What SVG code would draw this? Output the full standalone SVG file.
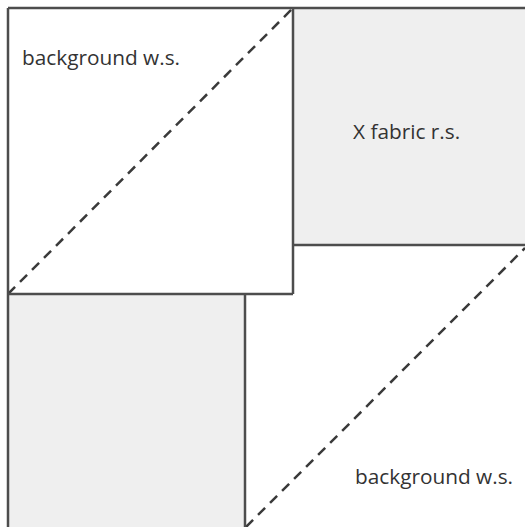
<svg xmlns="http://www.w3.org/2000/svg" width="525" height="527" viewBox="0 0 525 527">
<style>
.gray{fill:#efefef;stroke:none}
.white{fill:#ffffff;stroke:none}
.edge{stroke:#4d4d4d;stroke-width:2.5;fill:none}
.dash{stroke:#3a3a3a;stroke-width:2.5;fill:none;stroke-dasharray:10 7}
.lbl{font-family:"Open Sans","Noto Sans","Liberation Sans",sans-serif;font-size:20.8px;fill:#333333}
</style>
<rect x="0" y="0" width="525" height="527" fill="#ffffff"/>
<g id="x-fabric-top">
<rect class="gray" x="293" y="8" width="232" height="237"/>
<text class="lbl" x="353" y="139">X fabric r.s.</text>
</g>
<g id="gray-bottom-left">
<rect class="gray" x="8" y="294" width="237" height="233"/>
</g>
<g id="background-top">
<rect class="white" x="8" y="8" width="285" height="286"/>
<text class="lbl" x="22" y="65">background w.s.</text>
</g>
<g id="background-bottom">
<text class="lbl" x="355" y="484">background w.s.</text>
</g>
<g id="connectors">
<line class="dash" x1="8" y1="294" x2="293" y2="8"/>
<line class="dash" x1="246" y1="527" x2="525" y2="248"/>
</g>
<g id="outlines">
<line class="edge" x1="8" y1="8" x2="525" y2="8"/>
<line class="edge" x1="8" y1="8" x2="8" y2="527"/>
<line class="edge" x1="293" y1="8" x2="293" y2="294"/>
<line class="edge" x1="8" y1="294" x2="293" y2="294"/>
<line class="edge" x1="293" y1="245" x2="525" y2="245"/>
<line class="edge" x1="245" y1="294" x2="245" y2="527"/>
</g>
</svg>
